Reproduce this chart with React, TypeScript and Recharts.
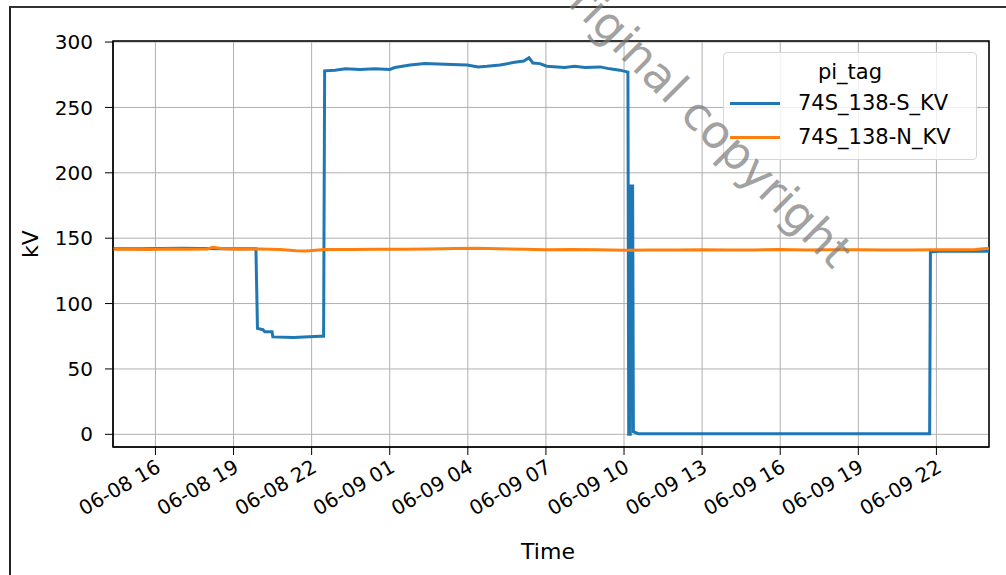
import React from "react";
import {
  LineChart,
  Line,
  XAxis,
  YAxis,
  CartesianGrid,
  ReferenceArea,
} from "recharts";

// time = hours since 06-08 00:00
const sTime = [
  14.37, 15.5, 17.0, 18.5, 19.86, 19.92, 20.13, 20.2, 20.48, 20.51, 21.3, 22.32, 22.46,
  22.5, 22.9, 23.3, 23.86, 24.43, 25.0, 25.2, 25.78, 26.35, 27.12, 27.97, 28.4, 28.74,
  29.24, 29.8, 30.15, 30.35, 30.5, 30.77, 31.03, 31.72, 32.1, 32.5, 33.08, 33.46, 33.84,
  34.15, 34.18, 34.24, 34.26, 34.33, 34.36, 34.55, 38.0, 42.0, 45.74, 45.77, 46.1, 48.02,
];
const sKV = [
  142, 142, 142.3, 142, 142, 81, 80, 78.5, 78.5, 74.5, 74, 75, 75,
  278, 278.5, 279.5, 279, 279.5, 279, 280.5, 282.5, 283.5, 283, 282.5, 281, 281.5,
  282.5, 284.5, 285.5, 288, 284, 283.5, 281.5, 280.5, 281.5, 280.5, 281, 279.5, 278.5,
  277, 0, 0, 190, 190, 2, 0.5, 0.5, 0.5, 0.5, 139.5, 140, 140,
];

const nTime = [
  14.37, 15.0, 15.8, 16.5, 17.3, 18.0, 18.2, 18.6, 19.2, 20.0, 20.8, 21.4, 21.8, 22.5,
  23.5, 24.5, 25.5, 26.5, 27.5, 28.3, 29.2, 30.2, 31.0, 32.0, 33.0, 34.0, 35.0, 36.0,
  37.0, 38.0, 39.0, 40.0, 41.0, 42.0, 43.0, 44.0, 45.0, 46.0, 46.8, 47.5, 48.02,
];
const nKV = [
  141.5, 141.6, 141.4, 141.7, 141.5, 141.8, 143, 142, 141.6, 141.8, 141.3, 140.4, 140.2, 141.3,
  141.4, 141.5, 141.6, 141.8, 142.1, 142.3, 141.9, 141.6, 141.2, 141.4, 141.1, 140.8, 140.9, 141.0,
  141.2, 140.9, 141.0, 141.3, 141.0, 141.1, 141.2, 140.9, 141.0, 141.1, 141.2, 141.3, 142.3,
];

const xTicks = [16, 19, 22, 25, 28, 31, 34, 37, 40, 43, 46];
const yTicks = [0, 50, 100, 150, 200, 250, 300];

const seriesNames = ["74S_138-S_KV", "74S_138-N_KV"];
const colors = ["#1f77b4", "#ff7f0e"];

const sData = sTime.map((t, i) => ({ t, v: sKV[i] }));
const nData = nTime.map((t, i) => ({ t, v: nKV[i] }));

const FONT = "'DejaVu Sans', sans-serif";
const X_MIN = 14.37;
const X_MAX = 48.02;
const Y_MIN = -9.7;
const Y_MAX = 300.8;

const fmtTime = (h: number) => {
  const day = h < 24 ? "06-08" : "06-09";
  const hh = String(h % 24).padStart(2, "0");
  return `${day} ${hh}`;
};

const TimeTick = (props: any) => {
  const { x, y, payload } = props;
  return (
    <g transform={`translate(${x - 1},${y})`}>
      <text
        textAnchor="end"
        transform="rotate(-30)"
        dy="0.75em"
        fontSize={20}
        fontFamily={FONT}
        fill="#000"
      >
        {fmtTime(payload.value)}
      </text>
    </g>
  );
};

// legend drawn as plain html so it takes no room from the plot
const LegendBox = () => (
  <div
    style={{
      position: "absolute",
      left: 723,
      top: 52,
      width: 252,
      height: 106,
      border: "1px solid #d6d6d6",
      borderRadius: 4,
      background: "rgba(255,255,255,0.8)",
      fontFamily: FONT,
      fontSize: 21,
      color: "#000",
    }}
  >
    <div style={{ position: "absolute", top: 7, left: 0, width: 252, textAlign: "center" }}>
      pi_tag
    </div>
    {seriesNames.map((name, i) => (
      <div
        key={name}
        style={{ position: "absolute", left: 6, top: 38 + i * 34, display: "flex", alignItems: "center" }}
      >
        <div style={{ width: 50, height: 3, background: colors[i], marginRight: 18 }} />
        <span>{name}</span>
      </div>
    ))}
  </div>
);

export default function App() {
  return (
    <div
      style={{
        position: "absolute",
        left: 0,
        top: 0,
        width: 1006,
        height: 575,
        background: "#fff",
        overflow: "hidden",
        fontFamily: FONT,
      }}
    >
      <div
        style={{
          position: "absolute",
          left: 9,
          top: 6,
          right: 0,
          bottom: 0,
          borderTop: "2px solid #333",
          borderLeft: "2px solid #222",
        }}
      />
      <div style={{ position: "absolute", left: 0, top: 0 }}>
        <LineChart width={1006} height={575} margin={{ top: 41, right: 17, bottom: 0, left: 0 }}>
          <CartesianGrid stroke="#b0b0b0" strokeWidth={1} />
          <XAxis
            dataKey="t"
            type="number"
            domain={[X_MIN, X_MAX]}
            allowDataOverflow
            ticks={xTicks}
            interval={0}
            height={128}
            tickSize={8}
            tickMargin={3}
            tickLine={{ stroke: "#000" }}
            axisLine={{ stroke: "#000" }}
            tick={<TimeTick />}
          />
          <YAxis
            type="number"
            domain={[Y_MIN, Y_MAX]}
            allowDataOverflow
            ticks={yTicks}
            interval={0}
            width={113}
            tickSize={8}
            tickMargin={12}
            tickLine={{ stroke: "#000" }}
            axisLine={{ stroke: "#000" }}
            tick={{ fontSize: 20, fontFamily: FONT, fill: "#000" }}
          />
          <Line
            data={sData}
            dataKey="v"
            name={seriesNames[0]}
            type="linear"
            stroke={colors[0]}
            strokeWidth={3}
            dot={false}
            isAnimationActive={false}
          />
          <Line
            data={nData}
            dataKey="v"
            name={seriesNames[1]}
            type="linear"
            stroke={colors[1]}
            strokeWidth={3}
            dot={false}
            isAnimationActive={false}
          />
          <ReferenceArea
            x1={X_MIN}
            x2={X_MAX}
            y1={Y_MIN}
            y2={Y_MAX}
            fill="none"
            stroke="#000"
            strokeWidth={1.5}
            ifOverflow="extendDomain"
          />
        </LineChart>
      </div>
      <LegendBox />
      <div
        style={{
          position: "absolute",
          left: 30,
          top: 244,
          transform: "translate(-50%,-50%) rotate(-90deg)",
          fontSize: 22,
          whiteSpace: "nowrap",
        }}
      >
        kV
      </div>
      <div
        style={{
          position: "absolute",
          left: 548,
          top: 551,
          transform: "translate(-50%,-50%)",
          fontSize: 22,
          whiteSpace: "nowrap",
        }}
      >
        Time
      </div>
      <div
        style={{
          position: "absolute",
          left: 701,
          top: 116,
          transform: "translate(-50%,-50%) rotate(45deg)",
          fontSize: 46,
          color: "rgba(120,120,120,0.7)",
          whiteSpace: "nowrap",
          pointerEvents: "none",
        }}
      >
        original copyright
      </div>
    </div>
  );
}
